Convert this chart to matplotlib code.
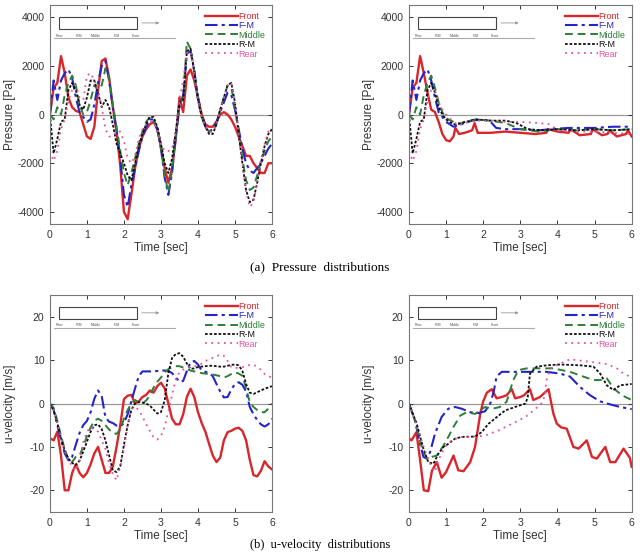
import numpy as np
from matplotlib import pyplot as plt
from matplotlib.patches import Rectangle

# time grid for the left-hand panels
t = np.round(np.arange(0, 6.01, 0.1), 1)

labels = ["Front", "F-M", "Middle", "R-M", "Rear"]

# (a) left: pressure [Pa]
p1_front = [0, 1100, 1300, 2400, 1700, 700, 300, 150, 100, -400,
            -900, -1000, -500, 1000, 2200, 2300, 1500, 300, -700, -2100,
            -4000, -4300, -3300, -2200, -1400, -900, -600, -400, -300, -600,
            -1300, -2200, -2800, -2200, -1000, 700, 100, 1600, 1850, 1400,
            700, 0, -400, -500, -500, -300, 0, 100, 0, -200,
            -500, -900, -1300, -1700, -1700, -2000, -2200, -2400, -2400, -2000, -2000]
p1_fm = [0, 1400, 600, 1400, 1700, 1850, 1500, 700, 100, -100,
         -300, -200, 400, 1300, 2000, 2200, 1400, 300, -600, -1800,
         -3300, -3800, -2900, -2200, -1500, -900, -500, -200, -200, -600,
         -1400, -2600, -3300, -2400, -900, 300, 800, 2500, 2600, 1800,
         700, 0, -500, -700, -600, -300, 100, 500, 900, 800,
         200, -600, -1400, -2000, -2300, -2400, -2200, -2000, -1700, -1400, -1200]
p1_mid = [0, -200, 300, 0, 800, 1300, 1600, 1200, 400, 0,
          100, 600, 1200, 1000, 1200, 1900, 1500, 400, -500, -1500,
          -2400, -2900, -2400, -1800, -1200, -700, -300, -100, -200, -600,
          -1400, -2500, -3200, -2300, -900, 400, 700, 3000, 2700, 1700,
          600, -100, -500, -700, -700, -400, 200, 700, 1200, 1100,
          300, -800, -1800, -2700, -3100, -3000, -2500, -1900, -1500, -1100, -900]
p1_rm = [0, -1600, -1000, -300, -200, 1000, 1300, 1000, 400, 200,
         700, 1400, 1400, 900, 300, 600, 300, -400, -1200, -1600,
         -2000, -2500, -2700, -2000, -1300, -800, -400, -100, -100, -500,
         -1200, -2000, -2400, -1800, -700, 500, 600, 2600, 2700, 1800,
         600, -100, -500, -800, -800, -400, 200, 700, 1200, 1300,
         500, -800, -2000, -3100, -3600, -3500, -2800, -2000, -1300, -800, -600]
p1_rear = [-1500, -1900, -1500, -600, -200, 600, 1000, 1200, 700, 600,
           1600, 1700, 1400, 1000, 300, -600, -900, -900, -700, -700,
           -1100, -1800, -2000, -1700, -1000, -600, -400, -300, -300, -600,
           -1200, -1500, -1500, -1400, -700, 600, 1400, 2500, 2600, 1700,
           600, -100, -500, -700, -700, -400, 200, 700, 1200, 1300,
           500, -800, -2000, -3200, -3800, -3600, -2800, -2000, -1200, -700, -600]

# (a) right: pressure [Pa]
p2_front_t = [0, .1, .2, .3, .4, .5, .6, .7, .8, .9, 1.0, 1.1, 1.2, 1.25, 1.35, 1.5, 1.7, 1.77, 1.85,
              2.2, 2.6, 3.0, 3.4, 3.7, 3.75, 4.0, 4.3, 4.35, 4.6, 4.9, 4.95, 5.2, 5.35, 5.4, 5.6,
              5.85, 5.9, 6.0]
p2_front = [0, 1100, 1300, 2400, 1700, 900, 200, 100, -300, -800, -1050, -1100, -900, -550, -800,
            -750, -650, -350, -750, -750, -700, -750, -800, -750, -600, -700, -750, -600, -850,
            -800, -600, -850, -800, -650, -900, -800, -650, -900]
p2_fm_t = [0, .1, .2, .3, .4, .5, .6, .7, .8, .9, 1.0, 1.2, 1.4, 1.7, 2.0, 2.2, 2.35, 2.6, 3.0,
           3.5, 3.8, 4.3, 5.0, 5.5, 6.0]
p2_fm = [0, 1400, 600, 1400, 1700, 1850, 1400, 700, 100, -100, -300, -500, -400, -250, -200,
         -300, -550, -600, -600, -650, -600, -550, -550, -500, -500]
p2_mid_t = [0, .1, .2, .3, .4, .5, .6, .7, .8, .9, 1.0, 1.2, 1.35, 1.5, 1.8, 2.2, 2.6, 3.0, 3.5,
            4.0, 4.5, 5.0, 5.5, 6.0]
p2_mid = [0, -200, 300, 0, 800, 1300, 1600, 1100, 500, 100, -150, -300, -400, -300, -200, -250,
          -350, -600, -700, -600, -650, -600, -650, -600]
p2_rm_t = [0, .1, .2, .3, .4, .5, .6, .7, .8, .9, 1.0, 1.2, 1.4, 1.8, 2.2, 2.6, 2.9, 3.2, 3.6,
           4.0, 4.5, 5.0, 5.5, 6.0]
p2_rm = [0, -1600, -1000, -300, -200, 1000, 1300, 900, 300, 0, -200, -400, -350, -200, -250,
         -250, -350, -600, -650, -600, -650, -600, -650, -600]
p2_rear_t = [0, .1, .2, .3, .4, .5, .6, .7, .8, .9, 1.0, 1.2, 1.35, 1.5, 1.8, 2.2, 2.6, 3.0, 3.5,
             3.8, 4.0, 4.5, 5.0, 5.5, 6.0]
p2_rear = [-1500, -1900, -1500, -600, -200, 600, 1000, 1000, 500, 200, 0, -300, -450, -350, -250,
           -250, -300, -300, -350, -400, -650, -700, -700, -750, -800]

# (b) left: u-velocity [m/s]
u1_front = [-8, -8.5, -6.5, -12, -20, -20, -16, -14, -16, -17,
            -16, -14, -11.5, -10, -13, -16, -16, -14.5, -10, -5,
            1, 1.8, 2, 0, 0.5, 1.5, 2, 3, 2.5, 4,
            4.8, 3.5, 0, -3.5, -4.8, -4.8, -2.5, 1.5, 3.4, 1.5,
            -2, -4.5, -6.5, -9.3, -12, -13.5, -12.5, -8.5, -6.6, -6.3,
            -5.8, -5.6, -6.3, -8.5, -13, -16.5, -16.8, -15.5, -13.3, -14.5, -15.2]
u1_fm = [0, -1.5, -5, -8.3, -11.5, -13.1, -12.3, -9.5, -6.8, -5,
         -4, -2, 1.1, 3, 1.7, -3.2, -4.2, -4.5, -5.1, -5.3,
         -4.5, -2.5, 0.5, 3.5, 6.3, 7.4, 7.4, 7.4, 7.4, 7.5,
         7.6, 7.6, 7.5, 7, 6, 5, 5.2, 7.5, 9.5, 9.8,
         9, 7.6, 7.3, 7, 6.3, 4.5, 2.8, 1.4, 1.5, 3.2,
         4.5, 4.9, 4.3, 2.8, -0.8, -2.5, -3.8, -4.8, -5.3, -4.8, -3.5]
u1_mid = [0, -1, -4, -7.5, -10.5, -13, -13.5, -12.3, -12, -10,
          -7.5, -5.5, -4, -3.5, -4, -5, -6, -6.8, -7, -6,
          -3.5, -1.5, 0, 0.8, 0.3, 0, 0.7, 1.8, 3.7, 5,
          6, 7.2, 7.9, 8.4, 8.6, 8.6, 8.3, 7.9, 7.6, 7.4,
          7.2, 7, 6.9, 6.8, 6.7, 6.5, 6.3, 6, 6.3, 6.8,
          7.2, 6.9, 6.4, 3.5, 0.3, -0.8, -1.5, -2, -2, -1.2, 0]
u1_rm = [0, -1.5, -4.5, -8, -10.8, -12.7, -13.7, -14.2, -13.2, -11.1,
         -8.8, -6.5, -5, -4.8, -5.9, -8.5, -12, -15.4, -15.8, -14.5,
         -9.5, -5, -1.5, 0, 0.3, 0.2, 0, -0.5, -1.4, -2.3,
         -2, 0.7, 7, 10.5, 11.4, 11.6, 10.8, 9.2, 8, 8.1,
         8.4, 8.5, 8.6, 8.7, 8.7, 8.6, 8.5, 8.5, 8.7, 8.9,
         9, 8.8, 7.5, 4.5, 2.5, 2.2, 2.6, 3, 3.4, 3.7, 4]
u1_rear = [0, -1.5, -4.5, -8, -11, -12.8, -14.5, -15.4, -13.1, -9,
           -6.5, -5.4, -5.8, -6.5, -8.5, -10.5, -13.8, -16.2, -17.7, -14.5,
           -10.5, -5, -1.2, -0.8, -1.5, -3, -4.8, -6.3, -7.8, -8.3,
           -7.5, -5.4, -1.8, 2, 5.5, 7.2, 7.8, 8.2, 8.5, 8.6,
           8.7, 9.2, 9.8, 10.2, 10.5, 10.9, 11.3, 11, 9.8, 8.4,
           8.2, 8.2, 8.4, 8.6, 8.9, 8.9, 8.5, 7.8, 6.8, 6.3, 6]

# (b) right: u-velocity [m/s]
u2_front_t = [0, 0.07, 0.2, 0.3, 0.4, 0.52, 0.62, 0.75, 0.88, 1.0, 1.2, 1.33, 1.47, 1.65, 1.78,
              1.92, 2.0, 2.1, 2.23, 2.36, 2.5, 2.63, 2.77, 2.86, 3.0, 3.1, 3.26, 3.35, 3.53,
              3.76, 3.89, 3.98, 4.1, 4.25, 4.43, 4.57, 4.79, 4.93, 5.06, 5.29, 5.42, 5.56,
              5.78, 5.95, 6.0]
u2_front = [-8, -8.5, -6.6, -13, -20, -20.2, -15.5, -13.5, -17.1, -15.8, -12, -15.4, -15.6,
            -13.5, -10, -2.4, 0.5, 2.5, 3.3, 1.2, 1.5, 1.9, 3.3, 1.2, 1.5, 1.9, 3.3, 0.8, 1.5,
            3.3, -2.3, -4.6, -5.5, -5.8, -10, -10.4, -8.5, -12.3, -12.7, -10, -13.5, -13.5,
            -10.4, -12.5, -14.6]
u2_fm_t = [0, 0.16, 0.3, 0.39, 0.48, 0.57, 0.7, 0.88, 1.06, 1.24, 1.42, 1.65, 1.87, 2.05, 2.19,
           2.28, 2.36, 2.5, 3.0, 3.7, 4.07, 4.34, 4.61, 4.88, 5.15, 5.42, 5.69, 6.0]
u2_fm = [0, -3.9, -9.3, -12.3, -12.7, -11.2, -7, -3.1, -1.2, -0.8, -1.2, -2, -2.2, -1.8, 0,
         2.6, 6.2, 7.3, 7.3, 7.3, 6.9, 6.2, 3.8, 1.9, 0.5, -0.2, -0.8, -1.3]
u2_mid_t = [0, 0.16, 0.34, 0.48, 0.61, 0.75, 0.93, 1.06, 1.2, 1.38, 1.56, 1.78, 2.05, 2.25,
            2.45, 2.63, 2.81, 2.95, 3.17, 3.89, 4.34, 4.7, 4.97, 5.15, 5.33, 5.51, 5.74, 6.0]
u2_mid = [0, -3.9, -10, -12.7, -12.3, -12, -9.7, -7.7, -5.4, -2.8, -2, -2.4, -0.8, -1.2, -0.8,
          0.4, 5.4, 7.7, 8.1, 8.1, 7.3, 6.2, 5.4, 5.4, 5.8, 3.5, 1.9, 0.8]
u2_rm_t = [0, 0.21, 0.39, 0.52, 0.66, 0.79, 0.93, 1.06, 1.24, 1.42, 1.78, 1.96, 2.14, 2.37,
           2.59, 2.86, 3.14, 3.2, 3.26, 3.44, 3.71, 4.07, 4.61, 4.97, 5.15, 5.33, 5.51, 5.69, 6.0]
u2_rm = [0, -4.7, -10.4, -13.5, -13.9, -11.6, -10, -9.3, -8.1, -7.7, -7.6, -6.6, -4.7, -3.1,
         -1.6, -0.8, 0, 1.5, 6.9, 8.5, 8.8, 9, 8.8, 8.5, 6.9, 4.2, 3.1, 4.2, 4.5]
u2_rear_t = [0, 0.25, 0.43, 0.61, 0.7, 0.79, 0.97, 1.15, 1.38, 1.69, 2.05, 2.41, 2.77, 3.14,
             3.41, 3.62, 3.71, 3.8, 4.07, 4.34, 4.7, 4.97, 5.33, 5.6, 5.78, 6.0]
u2_rear = [0, -6.2, -10.8, -14.6, -15.8, -13.1, -10, -8.5, -7.7, -7.7, -7.4, -6.2, -4.7, -3.1,
           -1.2, 0.4, 5.4, 8.1, 9.2, 10.2, 9.8, 9.5, 9.1, 8.1, 6.9, 6]

colors = ["#d9262b", "#2424c8", "#2e7d3a", "#111111", "#e0559f"]
styles = [dict(ls="-", lw=1.7),
          dict(ls=(0, (6, 2, 1.5, 2)), lw=1.5),
          dict(ls=(0, (4, 2.5)), lw=1.4),
          dict(ls=(0, (1.5, 1)), lw=1.3),
          dict(ls=(0, (1, 2.5)), lw=1.3)]

plt.rcParams["font.family"] = ["Liberation Sans", "DejaVu Sans"]
plt.rcParams["axes.unicode_minus"] = False


def setup(ax, ylim, yticks, ylabel):
    ax.axhline(0, color="#999999", lw=0.9, zorder=0)
    ax.set_xlim(0, 6)
    ax.set_ylim(*ylim)
    ax.set_xticks(range(7))
    ax.set_yticks(yticks)
    ax.tick_params(direction="in", top=True, right=True, labelsize=7.5,
                   colors="#333333", length=3, width=0.7, pad=4)
    for s in ax.spines.values():
        s.set_color("#777777")
        s.set_linewidth(0.8)
    ax.set_xlabel("Time [sec]", fontsize=8.5, color="#333333", labelpad=2)
    ax.set_ylabel(ylabel, fontsize=8.5, color="#333333")
    ax.yaxis.set_label_coords(-0.152, 0.5)
    # small sketch of the model in the upper left corner
    tr = ax.transAxes
    ax.add_patch(Rectangle((0.04, 0.89), 0.351, 0.055, transform=tr,
                           fill=False, ec="#444444", lw=0.8))
    ax.annotate("", xy=(0.505, 0.918), xytext=(0.401, 0.918), xycoords=tr,
                arrowprops=dict(arrowstyle="-|>", color="#999999", lw=0.6,
                                mutation_scale=4))
    ax.plot([0.018, 0.563], [0.847, 0.847], transform=tr, color="#aaaaaa", lw=0.8)
    for x, s in zip([0.045, 0.131, 0.207, 0.302, 0.387],
                    ["Rear", "R-M", "Middle", "F-M", "Front"]):
        ax.text(x, 0.855, s, transform=tr, fontsize=2.5, color="#555555", ha="center")
    leg = ax.legend(loc="upper right", frameon=False, fontsize=6.5, handlelength=3.6,
                    handletextpad=0.05, labelspacing=0.05, borderaxespad=0.35,
                    markerfirst=True)
    for txt, c in zip(leg.get_texts(), colors):
        txt.set_color(c)


fig = plt.figure(figsize=(6.4, 5.52), dpi=100)
ax1 = fig.add_axes([0.078, 0.594, 0.347, 0.397])
ax2 = fig.add_axes([0.639, 0.594, 0.348, 0.397])
ax3 = fig.add_axes([0.078, 0.0725, 0.347, 0.393])
ax4 = fig.add_axes([0.639, 0.0725, 0.348, 0.393])

for ys, lab, c, st in zip([p1_front, p1_fm, p1_mid, p1_rm, p1_rear], labels, colors, styles):
    ax1.plot(t, ys, color=c, label=lab, **st)
for ts, ys, lab, c, st in zip([p2_front_t, p2_fm_t, p2_mid_t, p2_rm_t, p2_rear_t],
                              [p2_front, p2_fm, p2_mid, p2_rm, p2_rear], labels, colors, styles):
    ax2.plot(ts, ys, color=c, label=lab, **st)
for ys, lab, c, st in zip([u1_front, u1_fm, u1_mid, u1_rm, u1_rear], labels, colors, styles):
    ax3.plot(t, ys, color=c, label=lab, **st)
for ts, ys, lab, c, st in zip([u2_front_t, u2_fm_t, u2_mid_t, u2_rm_t, u2_rear_t],
                              [u2_front, u2_fm, u2_mid, u2_rm, u2_rear], labels, colors, styles):
    ax4.plot(ts, ys, color=c, label=lab, **st)

for ax in (ax1, ax2):
    setup(ax, (-4500, 4500), [-4000, -2000, 0, 2000, 4000], "Pressure [Pa]")
for ax in (ax3, ax4):
    setup(ax, (-25, 25), [-20, -10, 0, 10, 20], "u-velocity [m/s]")

fig.text(0.5, 0.516, "(a)  Pressure  distributions", ha="center", va="center",
         fontsize=9.5, family="Liberation Serif")
fig.text(0.5, 0.002, "(b)  u-velocity  distributions", ha="center", va="bottom",
         fontsize=9, family="Liberation Serif")

plt.savefig("out.png", dpi=100)
